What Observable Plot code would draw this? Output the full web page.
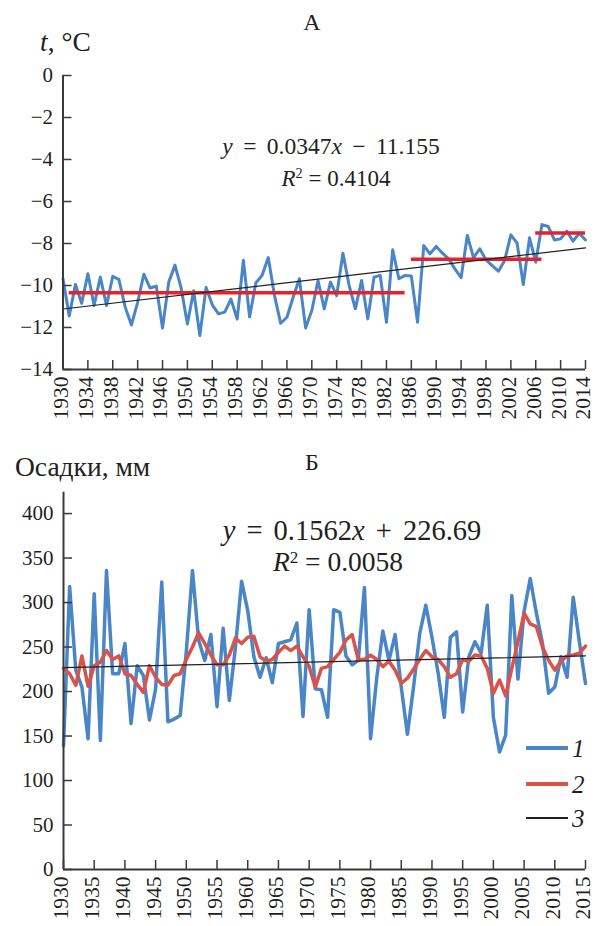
<!DOCTYPE html>
<html><head><meta charset="utf-8">
<script src="https://cdn.jsdelivr.net/npm/d3@7"></script>
<script src="https://cdn.jsdelivr.net/npm/@observablehq/plot@0.6"></script>
<style>
body{margin:0;background:#fff;}
#wrap{position:relative;width:595px;height:926px;overflow:hidden;font-family:"Liberation Serif","Times New Roman",serif;color:#231f20;}
.abs{position:absolute;white-space:nowrap;line-height:1;}
.c{transform:translate(-50%,-50%);}
.lv{transform:translateY(-50%);}
svg{position:absolute;left:0;overflow:visible;}
svg text{font-family:"Liberation Serif","Times New Roman",serif !important;font-variant-numeric:normal;}
</style></head><body><div id="wrap"></div>
<script>
// ---------- Panel A: temperature ----------
const tempYears = d3.range(1930, 2015);
const tempValues = [-9.68,-11.45,-9.95,-10.85,-9.44,-10.95,-9.6,-10.95,-9.56,-9.72,
 -11.03,-11.88,-10.8,-9.46,-10.12,-10.03,-12.03,-9.84,-9.03,-10.13,
 -11.83,-10.25,-12.38,-10.1,-10.92,-11.35,-11.27,-10.65,-11.6,-8.8,
 -11.5,-9.88,-9.52,-8.67,-10.48,-11.8,-11.51,-10.56,-9.68,-12.02,
 -11.19,-9.76,-11.11,-9.84,-10.48,-8.46,-10.0,-11.11,-9.76,-11.59,
 -9.6,-9.52,-11.75,-8.3,-9.68,-9.52,-9.55,-11.75,-8.1,-8.49,
 -8.14,-8.46,-8.73,-9.21,-9.63,-7.62,-8.68,-8.25,-8.78,-9.05,
 -9.32,-8.81,-7.59,-7.98,-9.95,-7.73,-8.89,-7.1,-7.19,-7.83,
 -7.78,-7.41,-7.89,-7.51,-7.83];
const tempMeanFrom = [1931, 1986, 2006];
const tempMeanTo = [1985, 2007, 2014];
const tempMeanValue = [-10.35, -8.75, -7.5];
const tempTrendSlope = 0.0347, tempTrendIntercept = -11.155;
const tempXTicks = d3.range(1930, 2015, 4);
const tempYTicks = [0, -2, -4, -6, -8, -10, -12, -14];

// ---------- Panel B: precipitation ----------
const precYears = d3.range(1930, 2016);
const precValues = [139,318,224,205,147,310,145,336,220,220,
 254,164,229,218,168,203,323,166,169,173,
 245,336,258,235,264,183,271,190,250,324,
 291,239,216,238,210,254,256,258,277,172,
 292,203,202,171,292,289,240,230,235,317,
 147,215,268,235,264,205,152,205,265,297,
 261,221,171,261,267,177,239,256,243,297,
 171,132,151,308,214,290,327,288,254,198,
 205,239,216,306,256,209];
const precSmooth = [226,220,207,240,206,229,233,246,236,240,
 220,218,208,199,229,216,208,207,218,220,
 236,250,266,254,241,230,230,241,260,254,
 261,262,239,234,236,244,251,246,251,239,
 228,205,226,228,236,244,258,264,236,236,
 241,236,228,234,224,209,215,225,236,246,
 239,236,228,216,220,236,234,241,240,226,
 198,213,195,226,256,288,276,273,250,235,
 224,234,240,241,243,251];
const precTrendSlope = 0.1562, precTrendIntercept = 226.69;
const precXTicks = d3.range(1930, 2016, 5);
const precYTicks = [0, 50, 100, 150, 200, 250, 300, 350, 400];
const legendLabels = ["1", "2", "3"];

const BLUE = "#4a86c6", RED_A = "#e62129", RED_B = "#d9534b", AXIS = "#3a3a3a", INK = "#231f20";
const fmtNum = d => d < 0 ? "\u2212" + Math.abs(d) : String(d);
const FONT = '"Liberation Serif", "Times New Roman", serif';

const wrap = document.getElementById("wrap");
function addText(html, left, top, size, cls, extra) {
  const d = document.createElement("div");
  d.className = "abs " + (cls || "");
  d.style.left = left + "px"; d.style.top = top + "px"; d.style.fontSize = size + "px";
  if (extra) Object.assign(d.style, extra);
  d.innerHTML = html; wrap.appendChild(d); return d;
}

// ----- Plot A -----
const tempData = tempYears.map((year, i) => ({year, t: tempValues[i]}));
const tempMeans = tempMeanFrom.map((f, i) => ({from: f, to: tempMeanTo[i], value: tempMeanValue[i]}));
const tempTrend = [tempYears[0], tempYears[tempYears.length - 1]].map(y => ({year: y, v: tempTrendSlope * (y - 1929) + tempTrendIntercept}));
const A = {W: 595, H: 436, ml: 62.5, mr: 10, mt: 75, mb: 67};
const plotA = Plot.plot({
  width: A.W, height: A.H, marginLeft: A.ml, marginRight: A.mr, marginTop: A.mt, marginBottom: A.mb,
  style: {fontFamily: FONT, fontSize: "21px", color: INK, background: "transparent", overflow: "visible"},
  x: {domain: [1930, 2014]},
  y: {domain: [-14, 0]},
  marks: [
    Plot.line(tempData, {x: "year", y: "t", stroke: BLUE, strokeWidth: 3, strokeLinejoin: "round"}),
    Plot.ruleY(tempMeans, {y: "value", x1: "from", x2: "to", stroke: RED_A, strokeWidth: 3.5}),
    Plot.line(tempTrend, {x: "year", y: "v", stroke: INK, strokeWidth: 1.2}),
    Plot.tickY(tempYTicks, {y: d => d, stroke: AXIS, strokeWidth: 1.5, insetRight: A.W - A.ml - A.mr - 9}),
    Plot.tickX(tempXTicks, {x: d => d, stroke: AXIS, strokeWidth: 1.5, insetTop: A.H - A.mt - A.mb - 9}),
    Plot.ruleX([1930], {stroke: AXIS, strokeWidth: 2}),
    Plot.ruleY([-14], {stroke: AXIS, strokeWidth: 2}),
    Plot.axisY({ticks: tempYTicks, tickSize: 0, tickPadding: 10, tickFormat: fmtNum, label: null, fontSize: 21}),
    Plot.axisX({ticks: tempXTicks, tickSize: 0, tickPadding: 7, tickRotate: -90, tickFormat: d => String(d), label: null, fontSize: 21.5, dx: -2})
  ]
});
plotA.style.top = "0px";
wrap.appendChild(plotA);

// ----- Plot B -----
const precData = precYears.map((year, i) => ({year, p: precValues[i], s: precSmooth[i]}));
const precTrend = [precYears[0], precYears[precYears.length - 1]].map(y => ({year: y, v: precTrendSlope * (y - 1929) + precTrendIntercept}));
const B = {top: 440, W: 595, H: 486, ml: 63, mr: 10, mt: 51.7, mb: 57};
const plotB = Plot.plot({
  width: B.W, height: B.H, marginLeft: B.ml, marginRight: B.mr, marginTop: B.mt, marginBottom: B.mb,
  style: {fontFamily: FONT, fontSize: "21px", color: INK, background: "transparent", overflow: "visible"},
  x: {domain: [1930, 2015]},
  y: {domain: [0, 424]},
  marks: [
    Plot.line(precData, {x: "year", y: "p", stroke: BLUE, strokeWidth: 3.5, strokeLinejoin: "round"}),
    Plot.line(precData, {x: "year", y: "s", stroke: RED_B, strokeWidth: 3.5, strokeLinejoin: "round"}),
    Plot.line(precTrend, {x: "year", y: "v", stroke: INK, strokeWidth: 1.2}),
    Plot.tickY(precYTicks, {y: d => d, stroke: AXIS, strokeWidth: 1.5, insetRight: B.W - B.ml - B.mr - 9}),
    Plot.tickX(precXTicks, {x: d => d, stroke: AXIS, strokeWidth: 1.5, insetTop: B.H - B.mt - B.mb - 9}),
    Plot.ruleX([1930], {stroke: AXIS, strokeWidth: 2}),
    Plot.ruleY([0], {stroke: AXIS, strokeWidth: 2}),
    Plot.axisY({ticks: precYTicks, tickSize: 0, tickPadding: 10, tickFormat: fmtNum, label: null, fontSize: 21}),
    Plot.axisX({ticks: precXTicks, tickSize: 0, tickPadding: 7, tickRotate: -90, tickFormat: d => String(d), label: null, fontSize: 21.5, dx: -2})
  ]
});
plotB.style.top = B.top + "px";
wrap.appendChild(plotB);

// ----- Text overlays -----
const sup = "<sup style='font-size:0.62em;vertical-align:0.5em;line-height:0'>2</sup>";
addText("А", 312, 22, 24, "c");
addText("<i>t</i>, °C", 40, 42, 27.5, "lv");
addText("<i>y</i> = 0.0347<i>x</i> \u2212 11.155", 331, 147, 23.5, "c", {wordSpacing: "4.5px"});
addText("<i>R</i>" + sup + " = 0.4104", 336, 178, 23, "c");
addText("Б", 312, 462, 24, "c");
addText("Осадки, мм", 15, 467, 27.5, "lv");
addText("<i>y</i> = 0.1562<i>x</i> + 226.69", 352, 531, 28.5, "c", {wordSpacing: "4px"});
addText("<i>R</i>" + sup + " = 0.0058", 338, 562, 27.5, "c");

// legend
const legendColors = [BLUE, RED_B, INK];
const legendWidths = [3.5, 3.5, 1.2];
const legendY = [748, 784, 818];
legendLabels.forEach((lab, i) => {
  const ln = document.createElement("div");
  ln.className = "abs";
  Object.assign(ln.style, {left: "526px", width: "42px", top: (legendY[i] - legendWidths[i] / 2) + "px", height: legendWidths[i] + "px", background: legendColors[i]});
  wrap.appendChild(ln);
  addText("<i>" + lab + "</i>", 572, legendY[i], 25, "lv");
});
</script></body></html>
